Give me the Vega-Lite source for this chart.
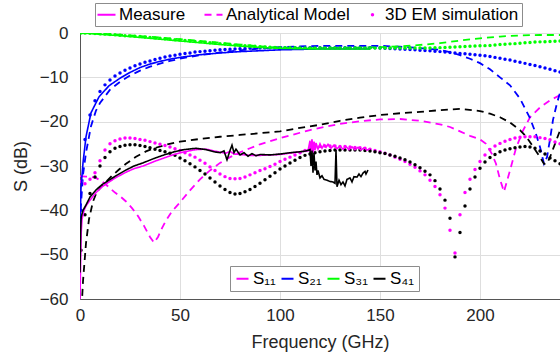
{
  "$schema": "https://vega.github.io/schema/vega-lite/v6.json",
  "width": 480,
  "height": 266,
  "autosize": {"type": "none"},
  "padding": {"left": 80, "top": 33, "right": 0, "bottom": 58},
  "background": "white",
  "config": {
    "view": {"stroke": "#555555", "strokeWidth": 1},
    "font": "Liberation Sans",
    "axis": {
      "domainColor": "#555555",
      "gridColor": "#dedede",
      "labelColor": "#262626",
      "labelFont": "Liberation Sans",
      "labelFontSize": 17,
      "titleFont": "Liberation Sans",
      "titleFontSize": 18,
      "titleFontWeight": "normal",
      "titleColor": "#262626",
      "ticks": false,
      "labelFlush": false
    },
    "legend": {"labelFont": "Liberation Sans", "labelColor": "#000000"}
  },
  "datasets": {
    "m11": [{"f":0,"v":-60},{"f":0.3,"v":-52},{"f":0.6,"v":-45},{"f":1,"v":-42},{"f":2,"v":-40},{"f":3,"v":-39},{"f":5,"v":-37.7},{"f":8,"v":-36},{"f":11,"v":-34.7},{"f":14.5,"v":-33.6},{"f":18,"v":-32.6},{"f":23,"v":-31.4},{"f":27,"v":-30.6},{"f":31.5,"v":-30},{"f":37,"v":-29},{"f":42,"v":-28.2},{"f":47,"v":-27.4},{"f":52,"v":-26.8},{"f":58,"v":-26.3},{"f":63,"v":-26.2},{"f":67,"v":-26.6},{"f":70,"v":-26.9},{"f":73,"v":-27.1},{"f":75,"v":-26.7},{"f":77,"v":-27.3},{"f":80,"v":-27.4},{"f":85,"v":-27.6},{"f":90,"v":-27.6},{"f":95,"v":-27.5},{"f":100,"v":-27.4},{"f":105,"v":-27.1},{"f":110,"v":-26.8},{"f":114,"v":-26.6},{"f":115,"v":-24.3},{"f":115.5,"v":-26.8},{"f":116,"v":-24},{"f":116.5,"v":-27},{"f":117,"v":-24.5},{"f":117.5,"v":-26.5},{"f":118,"v":-24.8},{"f":119,"v":-26.2},{"f":120,"v":-25},{"f":121,"v":-26},{"f":122,"v":-25.2},{"f":123,"v":-25.8},{"f":124,"v":-25.1},{"f":125.5,"v":-26},{"f":127,"v":-25.3},{"f":128.5,"v":-26.1},{"f":130,"v":-25.5},{"f":131.5,"v":-26.2},{"f":133,"v":-25.6},{"f":134.5,"v":-26.3},{"f":136,"v":-25.7},{"f":137.5,"v":-26.3},{"f":139,"v":-25.8},{"f":140.5,"v":-26.4},{"f":142,"v":-25.9},{"f":143.5,"v":-26.4},{"f":145,"v":-26.1}],
    "m21": [{"f":0,"v":-44},{"f":0.5,"v":-35},{"f":1.5,"v":-29.3},{"f":3,"v":-23.4},{"f":5.5,"v":-18},{"f":9.5,"v":-14.4},{"f":14.5,"v":-11.9},{"f":20,"v":-10.2},{"f":25,"v":-8.9},{"f":30,"v":-7.8},{"f":35,"v":-7},{"f":40,"v":-6.4},{"f":45,"v":-5.9},{"f":50,"v":-5.5},{"f":60,"v":-4.9},{"f":70,"v":-4.5},{"f":80,"v":-4.2},{"f":90,"v":-4},{"f":100,"v":-3.8},{"f":110,"v":-3.7},{"f":120,"v":-3.6},{"f":130,"v":-3.6},{"f":145,"v":-3.6}],
    "m31": [{"f":0,"v":0},{"f":5,"v":-0.1},{"f":10,"v":-0.3},{"f":20,"v":-0.6},{"f":30,"v":-1},{"f":40,"v":-1.4},{"f":50,"v":-1.8},{"f":60,"v":-2.2},{"f":70,"v":-2.6},{"f":80,"v":-2.95},{"f":90,"v":-3.25},{"f":100,"v":-3.45},{"f":110,"v":-3.55},{"f":120,"v":-3.6},{"f":130,"v":-3.6},{"f":145,"v":-3.6}],
    "m41": [{"f":0,"v":-54},{"f":0.3,"v":-45},{"f":0.6,"v":-41.5},{"f":1.5,"v":-40},{"f":3,"v":-38.8},{"f":5,"v":-37},{"f":8,"v":-35.4},{"f":11,"v":-34.2},{"f":14.5,"v":-33.2},{"f":18,"v":-32.2},{"f":23,"v":-30.9},{"f":27,"v":-30},{"f":31.5,"v":-29.3},{"f":37,"v":-28.3},{"f":42,"v":-27.5},{"f":47,"v":-26.8},{"f":52,"v":-26.3},{"f":58,"v":-26},{"f":63,"v":-26.3},{"f":67,"v":-26.8},{"f":70,"v":-27},{"f":72,"v":-26.6},{"f":73.5,"v":-28.6},{"f":75,"v":-26.5},{"f":76,"v":-25.3},{"f":77,"v":-27},{"f":78,"v":-26.2},{"f":80,"v":-27.5},{"f":82,"v":-27},{"f":84,"v":-27.8},{"f":86,"v":-27.2},{"f":88,"v":-27.7},{"f":90,"v":-27.4},{"f":95,"v":-27.5},{"f":100,"v":-27.3},{"f":105,"v":-27},{"f":110,"v":-26.8},{"f":113,"v":-26.6},{"f":115,"v":-26.3},{"f":115.5,"v":-30},{"f":116,"v":-26.5},{"f":116.5,"v":-31.5},{"f":117,"v":-27},{"f":117.5,"v":-31},{"f":118,"v":-29},{"f":118.5,"v":-32},{"f":119,"v":-31},{"f":120,"v":-32.7},{"f":121,"v":-32.2},{"f":122,"v":-33},{"f":123.5,"v":-33.2},{"f":125,"v":-33.5},{"f":126.5,"v":-33.6},{"f":127.5,"v":-33.9},{"f":128,"v":-26.4},{"f":128.5,"v":-34.7},{"f":129.5,"v":-33.2},{"f":130.5,"v":-34.2},{"f":131.5,"v":-33.6},{"f":132.5,"v":-34.5},{"f":133.5,"v":-33},{"f":135,"v":-32.7},{"f":136,"v":-33.6},{"f":137,"v":-32.4},{"f":138.5,"v":-32.5},{"f":139.5,"v":-31.8},{"f":140.5,"v":-32.4},{"f":141.5,"v":-31.6},{"f":142.5,"v":-31.2},{"f":143,"v":-31.8},{"f":144,"v":-30.9}],
    "a11": [{"f":0,"v":-32.3},{"f":3,"v":-32.4},{"f":6,"v":-32.5},{"f":8,"v":-32.7},{"f":10,"v":-33.2},{"f":12.5,"v":-34},{"f":15,"v":-35},{"f":17.5,"v":-36},{"f":20,"v":-36.8},{"f":23,"v":-38},{"f":26,"v":-39.5},{"f":29,"v":-41.3},{"f":32,"v":-43.5},{"f":35,"v":-46},{"f":37,"v":-47.3},{"f":39,"v":-46},{"f":41,"v":-44},{"f":43,"v":-42.3},{"f":46,"v":-40.2},{"f":50,"v":-38.2},{"f":55,"v":-35.5},{"f":60,"v":-33},{"f":65,"v":-31},{"f":70,"v":-29.3},{"f":75,"v":-28},{"f":80,"v":-26.9},{"f":85,"v":-26},{"f":90,"v":-25.1},{"f":95,"v":-24.4},{"f":100,"v":-23.7},{"f":105,"v":-23.1},{"f":110,"v":-22.5},{"f":115,"v":-21.9},{"f":120,"v":-21.4},{"f":130,"v":-20.5},{"f":140,"v":-19.9},{"f":150,"v":-19.5},{"f":160,"v":-19.4},{"f":170,"v":-19.8},{"f":180,"v":-20.6},{"f":185,"v":-21.2},{"f":190,"v":-22.2},{"f":195,"v":-23.2},{"f":200,"v":-24},{"f":203,"v":-25},{"f":206,"v":-27.3},{"f":208,"v":-29.5},{"f":210,"v":-33},{"f":212,"v":-35.8},{"f":215,"v":-31},{"f":218,"v":-26},{"f":221.5,"v":-22},{"f":225,"v":-19},{"f":230,"v":-16.8},{"f":235,"v":-15.2},{"f":240,"v":-14}],
    "a21": [{"f":0.3,"v":-40},{"f":1.5,"v":-32},{"f":3,"v":-27},{"f":5.5,"v":-21},{"f":8,"v":-17.5},{"f":10,"v":-15.8},{"f":15,"v":-12.8},{"f":20,"v":-11},{"f":25,"v":-9.6},{"f":30,"v":-8.5},{"f":35,"v":-7.6},{"f":40,"v":-6.9},{"f":45,"v":-6.3},{"f":50,"v":-5.8},{"f":60,"v":-5},{"f":70,"v":-4.4},{"f":80,"v":-3.9},{"f":90,"v":-3.5},{"f":100,"v":-3.2},{"f":110,"v":-3},{"f":120,"v":-2.9},{"f":130,"v":-2.9},{"f":140,"v":-2.9},{"f":150,"v":-2.9},{"f":160,"v":-3.1},{"f":170,"v":-3.4},{"f":180,"v":-3.8},{"f":185,"v":-4.3},{"f":190,"v":-5},{"f":195,"v":-5.8},{"f":200,"v":-6.8},{"f":205,"v":-8.2},{"f":210,"v":-10},{"f":215,"v":-11.8},{"f":220,"v":-14.8},{"f":225,"v":-19.2},{"f":228,"v":-22.8},{"f":230,"v":-25.7},{"f":232,"v":-29.5},{"f":233.5,"v":-28},{"f":235,"v":-24},{"f":236.5,"v":-19.6},{"f":238.5,"v":-15.8},{"f":240,"v":-13.5}],
    "a31": [{"f":0,"v":0},{"f":10,"v":-0.15},{"f":20,"v":-0.4},{"f":30,"v":-0.7},{"f":40,"v":-1},{"f":50,"v":-1.4},{"f":60,"v":-1.8},{"f":70,"v":-2.2},{"f":80,"v":-2.6},{"f":90,"v":-3},{"f":100,"v":-3.3},{"f":110,"v":-3.4},{"f":120,"v":-3.4},{"f":130,"v":-3.35},{"f":140,"v":-3.3},{"f":150,"v":-3.2},{"f":160,"v":-3},{"f":170,"v":-2.7},{"f":180,"v":-2.3},{"f":190,"v":-1.7},{"f":200,"v":-1.2},{"f":210,"v":-0.8},{"f":220,"v":-0.55},{"f":230,"v":-0.45},{"f":240,"v":-0.45}],
    "a41": [{"f":0.8,"v":-62},{"f":1.5,"v":-56},{"f":3,"v":-47.4},{"f":4.5,"v":-42},{"f":6.5,"v":-38},{"f":8,"v":-36.3},{"f":10,"v":-35},{"f":13,"v":-33.6},{"f":16,"v":-32.2},{"f":19.5,"v":-30.8},{"f":23,"v":-29.5},{"f":28,"v":-27.9},{"f":33,"v":-26.7},{"f":37,"v":-26},{"f":43,"v":-25.2},{"f":50,"v":-24.5},{"f":60,"v":-23.9},{"f":70,"v":-23.4},{"f":80,"v":-23},{"f":90,"v":-22.6},{"f":100,"v":-22.2},{"f":110,"v":-21.4},{"f":120,"v":-20.7},{"f":130,"v":-19.8},{"f":140,"v":-19.1},{"f":150,"v":-18.5},{"f":160,"v":-18.1},{"f":170,"v":-17.8},{"f":180,"v":-17.4},{"f":190,"v":-17.1},{"f":200,"v":-17.6},{"f":205,"v":-18.2},{"f":210,"v":-19},{"f":215,"v":-20.2},{"f":220,"v":-21.9},{"f":223,"v":-23.3},{"f":226.5,"v":-25.6},{"f":230,"v":-28},{"f":232,"v":-29.5},{"f":233.5,"v":-29.5},{"f":235,"v":-28},{"f":237.5,"v":-25},{"f":240,"v":-22}],
    "e11": [{"f":0.5,"v":-33.5},{"f":2.5,"v":-34},{"f":5,"v":-33},{"f":7.5,"v":-31.5},{"f":10,"v":-28.8},{"f":12.5,"v":-26.4},{"f":15,"v":-25},{"f":17.5,"v":-24.3},{"f":20,"v":-23.9},{"f":22.5,"v":-23.7},{"f":25,"v":-23.7},{"f":27.5,"v":-23.8},{"f":30,"v":-24},{"f":32.5,"v":-24.2},{"f":35,"v":-24.5},{"f":37.5,"v":-24.8},{"f":40,"v":-25.1},{"f":42.5,"v":-25.4},{"f":45,"v":-25.7},{"f":47.5,"v":-26.1},{"f":50,"v":-26.5},{"f":52.5,"v":-27},{"f":55,"v":-27.5},{"f":57.5,"v":-28},{"f":60,"v":-28.7},{"f":62.5,"v":-29.4},{"f":65,"v":-30.2},{"f":67.5,"v":-31},{"f":70,"v":-31.8},{"f":72.5,"v":-32.4},{"f":75,"v":-32.8},{"f":77.5,"v":-32.9},{"f":80,"v":-32.8},{"f":82.5,"v":-32.5},{"f":85,"v":-32},{"f":87.5,"v":-31.5},{"f":90,"v":-31},{"f":92.5,"v":-30.6},{"f":95,"v":-30.1},{"f":97.5,"v":-29.6},{"f":100,"v":-29},{"f":102.5,"v":-28.5},{"f":105,"v":-28},{"f":107.5,"v":-27.5},{"f":110,"v":-27},{"f":112.5,"v":-26.5},{"f":115,"v":-26.1},{"f":117.5,"v":-25.8},{"f":120,"v":-25.6},{"f":122.5,"v":-25.5},{"f":125,"v":-25.5},{"f":127.5,"v":-25.5},{"f":130,"v":-25.6},{"f":132.5,"v":-25.6},{"f":135,"v":-25.7},{"f":137.5,"v":-25.8},{"f":140,"v":-25.9},{"f":142.5,"v":-26},{"f":145,"v":-26.2},{"f":147.5,"v":-26.5},{"f":150,"v":-26.8},{"f":152.5,"v":-27.1},{"f":155,"v":-27.5},{"f":157.5,"v":-28},{"f":160,"v":-28.5},{"f":162.5,"v":-29},{"f":165,"v":-29.6},{"f":167.5,"v":-30.3},{"f":170,"v":-31.1},{"f":172.5,"v":-32},{"f":175,"v":-33.2},{"f":177.5,"v":-34.6},{"f":180,"v":-36.5},{"f":182.5,"v":-39.5},{"f":185,"v":-44.5},{"f":187.5,"v":-49.6},{"f":190,"v":-41},{"f":192.5,"v":-36},{"f":195,"v":-33},{"f":197.5,"v":-30.8},{"f":200,"v":-29},{"f":202.5,"v":-27.5},{"f":205,"v":-26.3},{"f":207.5,"v":-25.5},{"f":210,"v":-24.9},{"f":212.5,"v":-24.4},{"f":215,"v":-24},{"f":217.5,"v":-23.7},{"f":220,"v":-23.5},{"f":222.5,"v":-23.4},{"f":225,"v":-23.4},{"f":227.5,"v":-23.4},{"f":230,"v":-23.6},{"f":232.5,"v":-23.8},{"f":235,"v":-24.1},{"f":237.5,"v":-24.6},{"f":240,"v":-25}],
    "e21": [{"f":0.5,"v":-40},{"f":2.5,"v":-24},{"f":5,"v":-18.5},{"f":7.5,"v":-15.3},{"f":10,"v":-13.2},{"f":12.5,"v":-11.7},{"f":15,"v":-10.6},{"f":17.5,"v":-9.7},{"f":20,"v":-9},{"f":22.5,"v":-8.4},{"f":25,"v":-7.9},{"f":27.5,"v":-7.4},{"f":30,"v":-7},{"f":32.5,"v":-6.6},{"f":35,"v":-6.3},{"f":37.5,"v":-6},{"f":40,"v":-5.7},{"f":42.5,"v":-5.4},{"f":45,"v":-5.2},{"f":47.5,"v":-5},{"f":50,"v":-4.8},{"f":52.5,"v":-4.6},{"f":55,"v":-4.5},{"f":57.5,"v":-4.3},{"f":60,"v":-4.2},{"f":62.5,"v":-4.1},{"f":65,"v":-4},{"f":67.5,"v":-3.9},{"f":70,"v":-3.8},{"f":72.5,"v":-3.7},{"f":75,"v":-3.65},{"f":77.5,"v":-3.6},{"f":80,"v":-3.55},{"f":82.5,"v":-3.5},{"f":85,"v":-3.45},{"f":87.5,"v":-3.4},{"f":90,"v":-3.4},{"f":92.5,"v":-3.35},{"f":95,"v":-3.35},{"f":97.5,"v":-3.3},{"f":100,"v":-3.3},{"f":102.5,"v":-3.3},{"f":105,"v":-3.3},{"f":107.5,"v":-3.3},{"f":110,"v":-3.3},{"f":112.5,"v":-3.3},{"f":115,"v":-3.3},{"f":117.5,"v":-3.3},{"f":120,"v":-3.3},{"f":122.5,"v":-3.3},{"f":125,"v":-3.3},{"f":127.5,"v":-3.3},{"f":130,"v":-3.3},{"f":132.5,"v":-3.3},{"f":135,"v":-3.3},{"f":137.5,"v":-3.3},{"f":140,"v":-3.3},{"f":142.5,"v":-3.3},{"f":145,"v":-3.3},{"f":147.5,"v":-3.35},{"f":150,"v":-3.4},{"f":152.5,"v":-3.45},{"f":155,"v":-3.5},{"f":157.5,"v":-3.55},{"f":160,"v":-3.6},{"f":162.5,"v":-3.65},{"f":165,"v":-3.7},{"f":167.5,"v":-3.8},{"f":170,"v":-3.9},{"f":172.5,"v":-3.95},{"f":175,"v":-4},{"f":177.5,"v":-4.1},{"f":180,"v":-4.2},{"f":182.5,"v":-4.3},{"f":185,"v":-4.4},{"f":187.5,"v":-4.5},{"f":190,"v":-4.6},{"f":192.5,"v":-4.7},{"f":195,"v":-4.8},{"f":197.5,"v":-4.9},{"f":200,"v":-5},{"f":202.5,"v":-5.15},{"f":205,"v":-5.3},{"f":207.5,"v":-5.5},{"f":210,"v":-5.7},{"f":212.5,"v":-5.9},{"f":215,"v":-6.1},{"f":217.5,"v":-6.35},{"f":220,"v":-6.6},{"f":222.5,"v":-6.85},{"f":225,"v":-7.1},{"f":227.5,"v":-7.35},{"f":230,"v":-7.6},{"f":232.5,"v":-7.9},{"f":235,"v":-8.2},{"f":237.5,"v":-8.5},{"f":240,"v":-8.8}],
    "e31": [{"f":0.5,"v":0},{"f":2.5,"v":0},{"f":5,"v":-0.05},{"f":7.5,"v":-0.1},{"f":10,"v":-0.2},{"f":12.5,"v":-0.25},{"f":15,"v":-0.35},{"f":17.5,"v":-0.4},{"f":20,"v":-0.5},{"f":22.5,"v":-0.6},{"f":25,"v":-0.65},{"f":27.5,"v":-0.75},{"f":30,"v":-0.8},{"f":32.5,"v":-0.9},{"f":35,"v":-1},{"f":37.5,"v":-1.1},{"f":40,"v":-1.2},{"f":42.5,"v":-1.3},{"f":45,"v":-1.4},{"f":47.5,"v":-1.5},{"f":50,"v":-1.6},{"f":52.5,"v":-1.7},{"f":55,"v":-1.8},{"f":57.5,"v":-1.9},{"f":60,"v":-2},{"f":62.5,"v":-2.1},{"f":65,"v":-2.2},{"f":67.5,"v":-2.3},{"f":70,"v":-2.4},{"f":72.5,"v":-2.5},{"f":75,"v":-2.6},{"f":77.5,"v":-2.7},{"f":80,"v":-2.8},{"f":82.5,"v":-2.85},{"f":85,"v":-2.95},{"f":87.5,"v":-3},{"f":90,"v":-3.1},{"f":92.5,"v":-3.15},{"f":95,"v":-3.2},{"f":97.5,"v":-3.25},{"f":100,"v":-3.3},{"f":102.5,"v":-3.3},{"f":105,"v":-3.35},{"f":107.5,"v":-3.35},{"f":110,"v":-3.4},{"f":112.5,"v":-3.4},{"f":115,"v":-3.4},{"f":117.5,"v":-3.4},{"f":120,"v":-3.4},{"f":122.5,"v":-3.4},{"f":125,"v":-3.4},{"f":127.5,"v":-3.4},{"f":130,"v":-3.4},{"f":132.5,"v":-3.4},{"f":135,"v":-3.4},{"f":137.5,"v":-3.4},{"f":140,"v":-3.4},{"f":142.5,"v":-3.4},{"f":145,"v":-3.4},{"f":147.5,"v":-3.4},{"f":150,"v":-3.4},{"f":152.5,"v":-3.4},{"f":155,"v":-3.4},{"f":157.5,"v":-3.4},{"f":160,"v":-3.4},{"f":162.5,"v":-3.4},{"f":165,"v":-3.4},{"f":167.5,"v":-3.4},{"f":170,"v":-3.4},{"f":172.5,"v":-3.4},{"f":175,"v":-3.4},{"f":177.5,"v":-3.35},{"f":180,"v":-3.3},{"f":182.5,"v":-3.25},{"f":185,"v":-3.2},{"f":187.5,"v":-3.15},{"f":190,"v":-3.1},{"f":192.5,"v":-3.05},{"f":195,"v":-3},{"f":197.5,"v":-2.95},{"f":200,"v":-2.9},{"f":202.5,"v":-2.85},{"f":205,"v":-2.8},{"f":207.5,"v":-2.7},{"f":210,"v":-2.6},{"f":212.5,"v":-2.55},{"f":215,"v":-2.45},{"f":217.5,"v":-2.4},{"f":220,"v":-2.3},{"f":222.5,"v":-2.2},{"f":225,"v":-2.15},{"f":227.5,"v":-2.05},{"f":230,"v":-2},{"f":232.5,"v":-1.95},{"f":235,"v":-1.9},{"f":237.5,"v":-1.85},{"f":240,"v":-1.8}],
    "e41": [{"f":0.5,"v":-49},{"f":2.5,"v":-41},{"f":5,"v":-36.2},{"f":7.5,"v":-32.5},{"f":10,"v":-30},{"f":12.5,"v":-28.1},{"f":15,"v":-26.8},{"f":17.5,"v":-26},{"f":20,"v":-25.6},{"f":22.5,"v":-25.3},{"f":25,"v":-25.2},{"f":27.5,"v":-25.2},{"f":30,"v":-25.4},{"f":32.5,"v":-25.6},{"f":35,"v":-25.9},{"f":37.5,"v":-26.2},{"f":40,"v":-26.5},{"f":42.5,"v":-26.8},{"f":45,"v":-27.1},{"f":47.5,"v":-27.6},{"f":50,"v":-28.2},{"f":52.5,"v":-28.8},{"f":55,"v":-29.5},{"f":57.5,"v":-30.2},{"f":60,"v":-31},{"f":62.5,"v":-31.8},{"f":65,"v":-32.7},{"f":67.5,"v":-33.6},{"f":70,"v":-34.5},{"f":72.5,"v":-35.3},{"f":75,"v":-36},{"f":77.5,"v":-36.3},{"f":80,"v":-36.2},{"f":82.5,"v":-35.8},{"f":85,"v":-35.3},{"f":87.5,"v":-34.6},{"f":90,"v":-33.9},{"f":92.5,"v":-33.1},{"f":95,"v":-32.3},{"f":97.5,"v":-31.5},{"f":100,"v":-30.7},{"f":102.5,"v":-30},{"f":105,"v":-29.3},{"f":107.5,"v":-28.7},{"f":110,"v":-28.1},{"f":112.5,"v":-27.6},{"f":115,"v":-27.3},{"f":117.5,"v":-27},{"f":120,"v":-26.8},{"f":122.5,"v":-26.6},{"f":125,"v":-26.5},{"f":127.5,"v":-26.4},{"f":130,"v":-26.4},{"f":132.5,"v":-26.4},{"f":135,"v":-26.4},{"f":137.5,"v":-26.4},{"f":140,"v":-26.4},{"f":142.5,"v":-26.5},{"f":145,"v":-26.6},{"f":147.5,"v":-26.8},{"f":150,"v":-27},{"f":152.5,"v":-27.2},{"f":155,"v":-27.5},{"f":157.5,"v":-27.8},{"f":160,"v":-28.2},{"f":162.5,"v":-28.6},{"f":165,"v":-29.1},{"f":167.5,"v":-29.7},{"f":170,"v":-30.4},{"f":172.5,"v":-31.2},{"f":175,"v":-32},{"f":177.5,"v":-33.3},{"f":180,"v":-35.2},{"f":182.5,"v":-37.7},{"f":185,"v":-41.8},{"f":187.5,"v":-50.5},{"f":190,"v":-45},{"f":192.5,"v":-39},{"f":195,"v":-35.2},{"f":197.5,"v":-32.5},{"f":200,"v":-30.5},{"f":202.5,"v":-29.1},{"f":205,"v":-28.1},{"f":207.5,"v":-27.4},{"f":210,"v":-26.8},{"f":212.5,"v":-26.4},{"f":215,"v":-26.1},{"f":217.5,"v":-25.9},{"f":220,"v":-25.7},{"f":222.5,"v":-25.6},{"f":225,"v":-25.7},{"f":227.5,"v":-26},{"f":230,"v":-26.6},{"f":232.5,"v":-27.3},{"f":235,"v":-28.2},{"f":237.5,"v":-28.8},{"f":240,"v":-29.5}]
  },
  "encoding": {
    "x": {"field": "f", "type": "quantitative", "scale": {"domain": [0, 240], "nice": false, "zero": false}, "axis": {"values": [0, 50, 100, 150, 200], "title": "Frequency (GHz)", "grid": true, "labelPadding": 8, "titlePadding": 10}},
    "y": {"field": "v", "type": "quantitative", "scale": {"domain": [-60, 0], "nice": false}, "axis": {"values": [-60, -50, -40, -30, -20, -10, 0], "title": "S (dB)", "grid": true, "labelPadding": 12, "titlePadding": 9}}
  },
  "layer": [
    {"data": {"name": "a11"}, "mark": {"type": "line", "strokeWidth": 1.8, "clip": true},
     "encoding": {
       "color": {"datum": "S₁₁", "type": "nominal", "scale": {"domain": ["S₁₁", "S₂₁", "S₃₁", "S₄₁"], "range": ["#ff00ff", "#0000ff", "#00ff00", "#000000"]},
         "legend": {"title": null, "orient": "none", "legendX": 150, "legendY": 233, "direction": "horizontal", "symbolType": "stroke", "symbolSize": 144, "symbolStrokeWidth": 2, "labelFontSize": 17, "labelOffset": 2, "columnPadding": 1, "padding": 4, "strokeColor": "#8c8c8c", "fillColor": "white", "symbolDash": [1, 0]}},
       "strokeDash": {"datum": "Analytical Model", "type": "nominal", "scale": {"domain": ["Measure", "Analytical Model", "3D EM simulation"], "range": [[1, 0], [7, 5], [1, 0]]},
         "legend": {"title": null, "orient": "none", "legendX": 15, "legendY": -30, "direction": "horizontal", "symbolType": "stroke", "symbolSize": 324, "symbolStrokeColor": "#ff00ff", "symbolStrokeWidth": 2, "labelFontSize": 17, "labelOffset": 4, "columnPadding": 14, "padding": 3, "strokeColor": "#8c8c8c", "fillColor": "white",
           "encode": {"symbols": {"update": {
             "shape": {"signal": "datum.value === '3D EM simulation' ? 'circle' : 'stroke'"},
             "size": {"signal": "datum.value === '3D EM simulation' ? 12 : 324"},
             "fill": {"signal": "datum.value === '3D EM simulation' ? '#ff00ff' : 'transparent'"},
             "stroke": {"value": "#ff00ff"},
             "strokeDash": {"signal": "datum.value === 'Analytical Model' ? [2, 2] : [1, 0]"},
             "strokeWidth": {"signal": "datum.value === '3D EM simulation' ? 0 : 2"}
           }}}}}
     }},
    {"data": {"name": "a21"}, "mark": {"type": "line", "strokeWidth": 1.8, "clip": true}, "encoding": {"color": {"datum": "S₂₁", "type": "nominal"}, "strokeDash": {"datum": "Analytical Model", "type": "nominal"}}},
    {"data": {"name": "a31"}, "mark": {"type": "line", "strokeWidth": 1.8, "clip": true}, "encoding": {"color": {"datum": "S₃₁", "type": "nominal"}, "strokeDash": {"datum": "Analytical Model", "type": "nominal"}}},
    {"data": {"name": "a41"}, "mark": {"type": "line", "strokeWidth": 1.8, "clip": true}, "encoding": {"color": {"datum": "S₄₁", "type": "nominal"}, "strokeDash": {"datum": "Analytical Model", "type": "nominal"}}},
    {"data": {"name": "e11"}, "mark": {"type": "point", "filled": true, "size": 12, "opacity": 1, "clip": true}, "encoding": {"color": {"datum": "S₁₁", "type": "nominal"}}},
    {"data": {"name": "e21"}, "mark": {"type": "point", "filled": true, "size": 12, "opacity": 1, "clip": true}, "encoding": {"color": {"datum": "S₂₁", "type": "nominal"}}},
    {"data": {"name": "e31"}, "mark": {"type": "point", "filled": true, "size": 12, "opacity": 1, "clip": true}, "encoding": {"color": {"datum": "S₃₁", "type": "nominal"}}},
    {"data": {"name": "e41"}, "mark": {"type": "point", "filled": true, "size": 12, "opacity": 1, "clip": true}, "encoding": {"color": {"datum": "S₄₁", "type": "nominal"}}},
    {"data": {"name": "m11"}, "mark": {"type": "line", "strokeWidth": 1.6, "clip": true}, "encoding": {"color": {"datum": "S₁₁", "type": "nominal"}, "strokeDash": {"datum": "Measure", "type": "nominal"}}},
    {"data": {"name": "m21"}, "mark": {"type": "line", "strokeWidth": 1.6, "clip": true}, "encoding": {"color": {"datum": "S₂₁", "type": "nominal"}, "strokeDash": {"datum": "Measure", "type": "nominal"}}},
    {"data": {"name": "m31"}, "mark": {"type": "line", "strokeWidth": 1.6, "clip": true}, "encoding": {"color": {"datum": "S₃₁", "type": "nominal"}, "strokeDash": {"datum": "Measure", "type": "nominal"}}},
    {"data": {"name": "m41"}, "mark": {"type": "line", "strokeWidth": 1.6, "clip": true}, "encoding": {"color": {"datum": "S₄₁", "type": "nominal"}, "strokeDash": {"datum": "Measure", "type": "nominal"}}}
  ]
}
